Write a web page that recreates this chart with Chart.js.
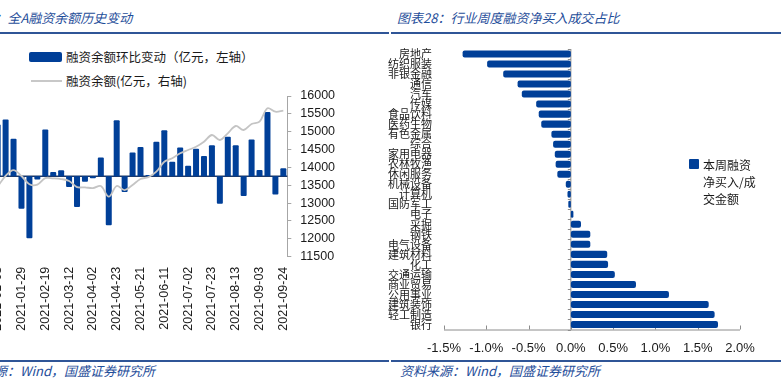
<!DOCTYPE html>
<html>
<head>
<meta charset="utf-8">
<script src="https://cdn.jsdelivr.net/npm/chart.js@4.4.0/dist/chart.umd.min.js"></script>
<style>
  body { margin: 0; width: 781px; height: 382px; overflow: hidden; background: #fff; position: relative; font-family: "Noto Sans CJK SC", sans-serif; }
  .abs { position: absolute; white-space: nowrap; }
  .title { font-style: italic; color: #1f4e9a; font-size: 13px; line-height: 13px; }
  .rule { position: absolute; height: 2px; background: #2f5597; }
  .lg { font-size: 12.5px; line-height: 13px; color: #1a1a1a; }
  .box { position: absolute; }
</style>
</head>
<body>

<div class="abs title" style="left:-46px; top:11px;">图表27：全A融资余额历史变动</div>
<div class="abs title" style="left:397px; top:11px;">图表28：行业周度融资净买入成交占比</div>
<div class="rule" style="left:0; top:32px; width:389px;"></div>
<div class="rule" style="left:391px; top:32px; width:390px;"></div>

<div class="box" style="left:29px; top:52px; width:33px; height:10px; background:#003f98; border-radius:2px;"></div>
<div class="abs lg" style="left:66px; top:50px;">融资余额环比变动（亿元，左轴）</div>
<div class="box" style="left:31px; top:80px; width:31px; height:2px; background:#c8c8c8;"></div>
<div class="abs lg" style="left:66px; top:74px;">融资余额(亿元，右轴)</div>

<div class="box" style="left:-16px; top:86px; width:360px; height:254px;"><canvas id="leftChart"></canvas></div>
<div class="box" style="left:370px; top:40px; width:400px; height:320px;"><canvas id="rightChart"></canvas></div>

<div class="box" style="left:689px; top:159px; width:10px; height:10px; background:#003f98; border-radius:1px;"></div>
<div class="abs" style="left:703px; top:156px; font-size:12px; line-height:17px; color:#1a1a1a;">本周融资<br>净买入/成<br>交金额</div>

<div class="rule" style="left:0; top:360px; width:389px;"></div>
<div class="rule" style="left:391px; top:360px; width:390px;"></div>
<div class="abs title" style="left:-45px; top:364px;">资料来源：Wind，国盛证券研究所</div>
<div class="abs title" style="left:400px; top:364px;">资料来源：Wind，国盛证券研究所</div>

<script>
// 左图：融资余额周度变化
const weeks = ['2021-01-08','2021-01-15','2021-01-22','2021-01-29','2021-02-05','2021-02-10','2021-02-19','2021-02-26','2021-03-05','2021-03-12','2021-03-19','2021-03-26','2021-04-02','2021-04-09','2021-04-16','2021-04-23','2021-04-30','2021-05-14','2021-05-21','2021-05-28','2021-06-04','2021-06-11','2021-06-18','2021-06-25','2021-07-02','2021-07-09','2021-07-16','2021-07-23','2021-07-30','2021-08-06','2021-08-13','2021-08-20','2021-08-27','2021-09-03','2021-09-10','2021-09-17','2021-09-24'];
const weeklyChange = [291,319,211,-181,-347,-17,263,24,34,-60,-172,-30,-10,105,-274,314,-88,133,164,8,194,258,82,161,60,155,114,174,-153,222,174,-110,207,35,360,-101,45];
const balance = [13460,13765,13925,13760,13530,13520,13700,13695,13675,13620,13450,13443,13420,13480,13180,13480,13367,13510,13675,13730,13880,14160,14255,14395,14487,14580,14720,14908,14768,14955,15160,15048,15216,15280,15655,15560,15590];
const balanceTicks = { min: 11500, max: 16000, step: 500 };

// 右图：行业融资净买入/成交额（%）
const industries = ['房地产','纺织服装','非银金融','通信','汽车','传媒','食品饮料','医药生物','有色金属','综合','家用电器','农林牧渔','休闲服务','机械设备','计算机','国防军工','电子','采掘','钢铁','电气设备','建筑材料','化工','交通运输','商业贸易','公用事业','建筑装饰','轻工制造','银行'];
const netBuyRatio = [-1.28,-0.99,-0.80,-0.63,-0.58,-0.41,-0.38,-0.35,-0.23,-0.21,-0.19,-0.18,-0.16,-0.06,-0.04,-0.03,0.03,0.12,0.23,0.23,0.43,0.44,0.52,0.77,1.16,1.63,1.70,1.74];
const ratioTicks = { min: -1.5, max: 2.0, step: 0.5 };

const BLUE = '#003f98';

// 不让刻度文字把绘图区往里挤
function noEdgePad(s) {
    s.paddingTop = 0;
    s.paddingBottom = 0;
    s.paddingLeft = 0;
    s.paddingRight = 0;
}

const zeroLine = {
    id: 'zeroLine',
    beforeDatasetsDraw(chart) {
        const ctx = chart.ctx, a = chart.chartArea;
        const y0 = chart.scales.y.getPixelForValue(0);
        ctx.save();
        ctx.strokeStyle = '#1f3864';
        ctx.lineWidth = 1.5;
        ctx.beginPath();
        ctx.moveTo(a.left, y0);
        ctx.lineTo(a.right, y0);
        ctx.stroke();
        ctx.restore();
    }
};

new Chart(document.getElementById('leftChart').getContext('2d'), {
    data: {
        labels: weeks,
        datasets: [
            {
                type: 'line',
                label: '融资余额(亿元，右轴)',
                data: balance,
                yAxisID: 'y1',
                borderColor: '#c4c4c4',
                borderWidth: 1.8,
                pointRadius: 0,
                tension: 0.35,
                order: 0,
            },
            {
                type: 'bar',
                label: '融资余额环比变动（亿元，左轴）',
                data: weeklyChange,
                yAxisID: 'y',
                backgroundColor: BLUE,
                borderRadius: 1,
                barPercentage: 0.84,
                categoryPercentage: 0.9,
                order: 1,
            },
        ],
    },
    options: {
        responsive: true,
        maintainAspectRatio: false,
        animation: false,
        layout: { padding: { left: 9.7, top: 10, right: 0, bottom: 0 } },
        plugins: { legend: { display: false }, tooltip: { enabled: false } },
        scales: {
            x: {
                grid: { display: false, drawTicks: false },
                border: { display: false },
                ticks: {
                    autoSkip: false,
                    minRotation: 90,
                    maxRotation: 90,
                    padding: 10,
                    color: '#1a1a1a',
                    font: { family: 'Liberation Sans', size: 12.5 },
                    callback: function (v, i) { return i % 3 === 0 ? weeks[i] : ''; },
                },
                afterFit: function (s) { s.height = 83.3; noEdgePad(s); },
            },
            y: { display: false, min: -450, max: 450 },
            y1: {
                position: 'right',
                min: balanceTicks.min,
                max: balanceTicks.max,
                grid: { drawOnChartArea: false, tickLength: 4, color: '#a6a6a6' },
                border: { color: '#a6a6a6' },
                ticks: {
                    stepSize: balanceTicks.step,
                    autoSkip: false,
                    padding: 9,
                    color: '#1a1a1a',
                    font: { family: 'Liberation Sans', size: 12.5 },
                    callback: function (v) { return String(v); },
                },
                afterFit: function (s) { s.width = 56.7; noEdgePad(s); },
            },
        },
    },
    plugins: [zeroLine],
});

const ratioAxis = {
    id: 'ratioAxis',
    beforeDatasetsDraw(chart) {
        const ctx = chart.ctx, a = chart.chartArea, xs = chart.scales.x;
        const x0 = xs.getPixelForValue(0);
        ctx.save();
        ctx.strokeStyle = '#8c8c8c';
        ctx.lineWidth = 1;
        ctx.beginPath();
        ctx.moveTo(x0, a.top);
        ctx.lineTo(x0, a.bottom);
        // 类别分隔小刻度
        const step = (a.bottom - a.top) / industries.length;
        for (let i = 0; i <= industries.length; i++) {
            const y = Math.round(a.top + i * step) + 0.5;
            ctx.moveTo(x0 - 3, y);
            ctx.lineTo(x0, y);
        }
        // 底部横轴及向内刻度
        ctx.moveTo(a.left, a.bottom + 0.5);
        ctx.lineTo(a.right, a.bottom + 0.5);
        xs.ticks.forEach(function (t) {
            const x = Math.round(xs.getPixelForValue(t.value)) + 0.5;
            ctx.moveTo(x, a.bottom);
            ctx.lineTo(x, a.bottom - 4);
        });
        ctx.stroke();
        ctx.restore();
    }
};

new Chart(document.getElementById('rightChart').getContext('2d'), {
    type: 'bar',
    data: {
        labels: industries,
        datasets: [
            {
                label: '本周融资净买入/成交金额',
                data: netBuyRatio,
                backgroundColor: BLUE,
                borderRadius: 2,
                borderSkipped: false,
                barPercentage: 0.78,
                categoryPercentage: 0.9,
            },
        ],
    },
    options: {
        indexAxis: 'y',
        responsive: true,
        maintainAspectRatio: false,
        animation: false,
        layout: { padding: { left: 0, top: 9, right: 30, bottom: 0 } },
        plugins: { legend: { display: false }, tooltip: { enabled: false } },
        scales: {
            x: {
                min: ratioTicks.min,
                max: ratioTicks.max,
                grid: { display: false, drawTicks: false },
                border: { display: false },
                ticks: {
                    stepSize: ratioTicks.step,
                    padding: 11,
                    color: '#1a1a1a',
                    font: { family: 'Liberation Sans', size: 13 },
                    callback: function (v) { return v.toFixed(1) + '%'; },
                },
                afterFit: function (s) { s.height = 30.5; noEdgePad(s); },
            },
            y: {
                grid: { display: false, drawTicks: false },
                border: { display: false },
                ticks: {
                    autoSkip: false,
                    padding: 12,
                    color: '#1a1a1a',
                    font: { family: 'Noto Sans CJK SC', size: 11 },
                },
                afterFit: function (s) { s.width = 74; noEdgePad(s); },
            },
        },
    },
    plugins: [ratioAxis],
});
</script>
</body>
</html>
